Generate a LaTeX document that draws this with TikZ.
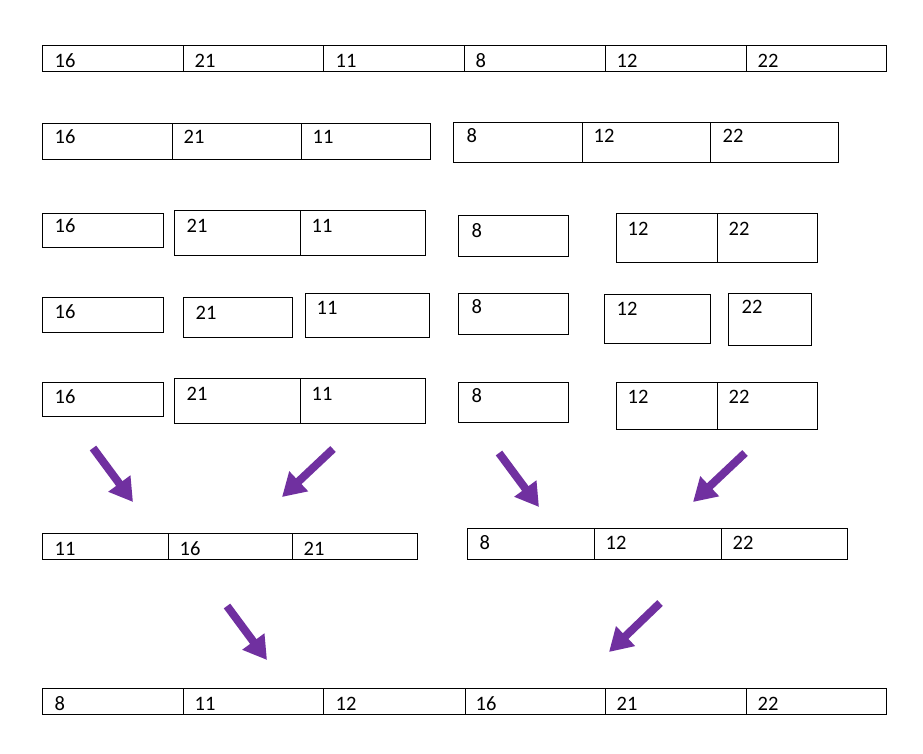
\documentclass[tikz,border=0pt]{standalone}
\usepackage{fontspec}
\setmainfont{Carlito}
\usetikzlibrary{arrows.meta}
\definecolor{purp}{HTML}{7030A0}
\begin{document}
\begin{tikzpicture}[x=1pt,y=-1pt,
  boxline/.style={draw=black,line width=1pt},
  num/.style={anchor=base west,inner sep=0pt,xshift=1.5pt,font=\fontsize{20.5}{24}\selectfont},
  bigarrow/.style={draw=purp,line width=8pt,-{Triangle[length=23pt,width=26pt]}}]
\useasboundingbox[fill=white] (0,0) rectangle (923,754);
% Row 1
\draw[boxline] (42,46) rectangle (886,72);
\foreach \x in {183,323,464,605,746} \draw[boxline] (\x,46) -- (\x,72);
\node[num] (r1a) at (53,68) {16};
\node[num] (r1b) at (193,68) {21};
\node[num] (r1c) at (334,68) {11};
\node[num] (r1d) at (474,68) {8};
\node[num] (r1e) at (615,68) {12};
\node[num] (r1f) at (756,68) {22};
% Row 2
\draw[boxline] (42,124) rectangle (430,160);
\draw[boxline] (172,124) -- (172,160) (301,124) -- (301,160);
\node[num] (r2a) at (53,144) {16};
\node[num] (r2b) at (182,144) {21};
\node[num] (r2c) at (311,144) {11};
\draw[boxline] (453,123) rectangle (838,163);
\draw[boxline] (582,123) -- (582,163) (710,123) -- (710,163);
\node[num] (r2d) at (465,143) {8};
\node[num] (r2e) at (592,143) {12};
\node[num] (r2f) at (721,143) {22};
% Row 3
\draw[boxline] (42,213) rectangle (163,247);
\node[num] (r3a) at (53,233) {16};
\draw[boxline] (174,210) rectangle (425,255);
\draw[boxline] (300,210) -- (300,255);
\node[num] (r3b) at (185,232) {21};
\node[num] (r3c) at (310,232) {11};
\draw[boxline] (458,215) rectangle (568,256);
\node[num] (r3d) at (470,237) {8};
\draw[boxline] (616,213) rectangle (817,262);
\draw[boxline] (717,213) -- (717,262);
\node[num] (r3e) at (626,235) {12};
\node[num] (r3f) at (727,235) {22};
% Row 4
\draw[boxline] (42,297) rectangle (163,332);
\node[num] (r4a) at (53,318) {16};
\draw[boxline] (183,297) rectangle (292,337);
\node[num] (r4b) at (194,319) {21};
\draw[boxline] (305,293) rectangle (429,337);
\node[num] (r4c) at (315,314) {11};
\draw[boxline] (458,293) rectangle (568,334);
\node[num] (r4d) at (470,313) {8};
\draw[boxline] (604,294) rectangle (710,343);
\node[num] (r4e) at (615,315) {12};
\draw[boxline] (728,293) rectangle (811,345);
\node[num] (r4f) at (740,313) {22};
% Row 5
\draw[boxline] (42,382) rectangle (163,416);
\node[num] (r5a) at (53,403) {16};
\draw[boxline] (174,378) rectangle (425,423);
\draw[boxline] (300,378) -- (300,423);
\node[num] (r5b) at (185,400) {21};
\node[num] (r5c) at (310,400) {11};
\draw[boxline] (458,382) rectangle (568,422);
\node[num] (r5d) at (470,402) {8};
\draw[boxline] (616,382) rectangle (817,429);
\draw[boxline] (717,382) -- (717,429);
\node[num] (r5e) at (626,403) {12};
\node[num] (r5f) at (727,403) {22};
% Row 6
\draw[boxline] (42,533) rectangle (417,559);
\draw[boxline] (168,533) -- (168,559) (292,533) -- (292,559);
\node[num] (r6a) at (53,555) {11};
\node[num] (r6b) at (178,555) {16};
\node[num] (r6c) at (302,555) {21};
\draw[boxline] (467,528) rectangle (847,559);
\draw[boxline] (594,528) -- (594,559) (721,528) -- (721,559);
\node[num] (r6d) at (478,549) {8};
\node[num] (r6e) at (604,549) {12};
\node[num] (r6f) at (731,549) {22};
% Row 7
\draw[boxline] (42,688) rectangle (886,714);
\foreach \x in {183,323,465,605,746} \draw[boxline] (\x,688) -- (\x,714);
\node[num] (r7a) at (53,710) {8};
\node[num] (r7b) at (193,710) {11};
\node[num] (r7c) at (334,710) {12};
\node[num] (r7d) at (474,710) {16};
\node[num] (r7e) at (615,710) {21};
\node[num] (r7f) at (756,710) {22};
% Arrows
\coordinate (a1s) at (93,448);  \coordinate (a1e) at (133,502);
\coordinate (a2s) at (333,449); \coordinate (a2e) at (282,497);
\coordinate (a3s) at (499,453); \coordinate (a3e) at (539,507);
\coordinate (a4s) at (745,453); \coordinate (a4e) at (693,502);
\coordinate (a5s) at (227,606); \coordinate (a5e) at (267,660);
\coordinate (a6s) at (660,603); \coordinate (a6e) at (609,652);
\draw[bigarrow] (a1s) -- (a1e);
\draw[bigarrow] (a2s) -- (a2e);
\draw[bigarrow] (a3s) -- (a3e);
\draw[bigarrow] (a4s) -- (a4e);
\draw[bigarrow] (a5s) -- (a5e);
\draw[bigarrow] (a6s) -- (a6e);
\end{tikzpicture}
\end{document}
